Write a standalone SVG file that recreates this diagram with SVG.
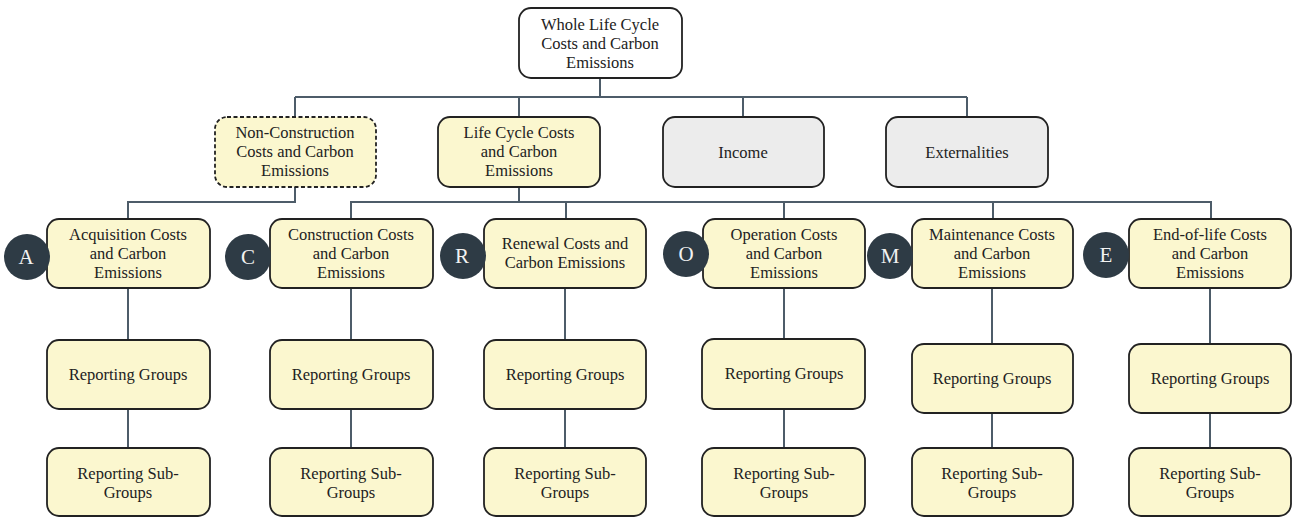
<svg xmlns="http://www.w3.org/2000/svg" width="1293" height="518" viewBox="0 0 1293 518">
<style>
.y{fill:#fbf7cf;stroke:#222;stroke-width:1.8}
.g{fill:#ececec;stroke:#222;stroke-width:1.8}
.w{fill:#fff;stroke:#222;stroke-width:1.8}
.d{stroke-dasharray:4 2.5}
text{font-family:"Liberation Serif","Times New Roman",serif;font-size:16.5px;fill:#222;text-anchor:middle}
.c{fill:#2e3b45}
.ct{fill:#f2f2f2;font-size:21px}
.ln{fill:none;stroke:#4d5c69;stroke-width:2}
</style>
<rect width="1293" height="518" fill="#fff"/>
<g id="connectors">
<path class="ln" d="M600 78V97M295 97H967M295 97V117M519 97V117M743 97V117M967 97V117"/>
<path class="ln" d="M295 187V202H128V219"/>
<path class="ln" d="M519 187V202H351V219M519 202H1211V219M566 202V219M784 202V219M993 202V219"/>
<path class="ln" d="M128 288V340M128 409V448M351 288V340M351 409V448M565 288V340M565 409V448M784 288V339M784 409V448M992 288V344M992 413V448M1210 288V344M1210 413V448"/>
</g>
<g id="whole"><rect class="w" x="519" y="8" width="163" height="70" rx="12"/>
<text x="600" y="30">Whole Life Cycle</text><text x="600" y="49">Costs and Carbon</text><text x="600" y="68">Emissions</text></g>
<g id="nonconstruction"><rect class="y d" x="215" y="117" width="161" height="70" rx="12"/>
<text x="295" y="138">Non-Construction</text><text x="295" y="157">Costs and Carbon</text><text x="295" y="176">Emissions</text></g>
<g id="lifecycle"><rect class="y" x="438" y="117" width="162" height="70" rx="12"/>
<text x="519" y="138">Life Cycle Costs</text><text x="519" y="157">and Carbon</text><text x="519" y="176">Emissions</text></g>
<g id="income"><rect class="g" x="663" y="117" width="161" height="70" rx="12"/>
<text x="743" y="158">Income</text></g>
<g id="externalities"><rect class="g" x="886" y="117" width="162" height="70" rx="12"/>
<text x="967" y="158">Externalities</text></g>

<g id="acquisition"><rect class="y" x="47" y="219" width="163" height="69" rx="12"/>
<text x="128" y="240">Acquisition Costs</text><text x="128" y="259">and Carbon</text><text x="128" y="278">Emissions</text>
<circle class="c" cx="27" cy="257" r="23"/><text class="ct" x="26" y="264">A</text></g>
<g id="construction"><rect class="y" x="270" y="219" width="163" height="69" rx="12"/>
<text x="351" y="240">Construction Costs</text><text x="351" y="259">and Carbon</text><text x="351" y="278">Emissions</text>
<circle class="c" cx="248" cy="257" r="23"/><text class="ct" x="248" y="264">C</text></g>
<g id="renewal"><rect class="y" x="484" y="219" width="162" height="69" rx="12"/>
<text x="565" y="249">Renewal Costs and</text><text x="565" y="268">Carbon Emissions</text>
<circle class="c" cx="463" cy="256" r="23"/><text class="ct" x="462" y="263">R</text></g>
<g id="operation"><rect class="y" x="703" y="219" width="162" height="69" rx="12"/>
<text x="784" y="240">Operation Costs</text><text x="784" y="259">and Carbon</text><text x="784" y="278">Emissions</text>
<circle class="c" cx="686" cy="254" r="23"/><text class="ct" x="686" y="261">O</text></g>
<g id="maintenance"><rect class="y" x="912" y="219" width="161" height="69" rx="12"/>
<text x="992" y="240">Maintenance Costs</text><text x="992" y="259">and Carbon</text><text x="992" y="278">Emissions</text>
<circle class="c" cx="890" cy="256" r="23"/><text class="ct" x="890" y="263">M</text></g>
<g id="endoflife"><rect class="y" x="1129" y="219" width="162" height="69" rx="12"/>
<text x="1210" y="240">End-of-life Costs</text><text x="1210" y="259">and Carbon</text><text x="1210" y="278">Emissions</text>
<circle class="c" cx="1106" cy="255" r="23"/><text class="ct" x="1106" y="262">E</text></g>

<g id="rg-a"><rect class="y" x="47" y="340" width="163" height="69" rx="12"/><text x="128" y="380">Reporting Groups</text></g>
<g id="rg-c"><rect class="y" x="270" y="340" width="163" height="69" rx="12"/><text x="351" y="380">Reporting Groups</text></g>
<g id="rg-r"><rect class="y" x="484" y="340" width="162" height="69" rx="12"/><text x="565" y="380">Reporting Groups</text></g>
<g id="rg-o"><rect class="y" x="702" y="339" width="163" height="70" rx="12"/><text x="784" y="379">Reporting Groups</text></g>
<g id="rg-m"><rect class="y" x="912" y="344" width="161" height="69" rx="12"/><text x="992" y="384">Reporting Groups</text></g>
<g id="rg-e"><rect class="y" x="1129" y="344" width="162" height="69" rx="12"/><text x="1210" y="384">Reporting Groups</text></g>

<g id="sg-a"><rect class="y" x="47" y="448" width="163" height="68" rx="12"/><text x="128" y="479">Reporting Sub-</text><text x="128" y="498">Groups</text></g>
<g id="sg-c"><rect class="y" x="270" y="448" width="163" height="68" rx="12"/><text x="351" y="479">Reporting Sub-</text><text x="351" y="498">Groups</text></g>
<g id="sg-r"><rect class="y" x="484" y="448" width="162" height="68" rx="12"/><text x="565" y="479">Reporting Sub-</text><text x="565" y="498">Groups</text></g>
<g id="sg-o"><rect class="y" x="702" y="448" width="163" height="68" rx="12"/><text x="784" y="479">Reporting Sub-</text><text x="784" y="498">Groups</text></g>
<g id="sg-m"><rect class="y" x="912" y="448" width="161" height="68" rx="12"/><text x="992" y="479">Reporting Sub-</text><text x="992" y="498">Groups</text></g>
<g id="sg-e"><rect class="y" x="1129" y="448" width="162" height="68" rx="12"/><text x="1210" y="479">Reporting Sub-</text><text x="1210" y="498">Groups</text></g>
</svg>
